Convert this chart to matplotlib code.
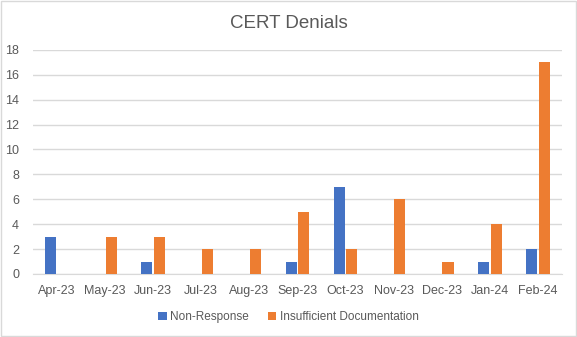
import numpy as np
import matplotlib.pyplot as plt
from matplotlib.patches import Rectangle

months = ['Apr-23', 'May-23', 'Jun-23', 'Jul-23', 'Aug-23', 'Sep-23',
          'Oct-23', 'Nov-23', 'Dec-23', 'Jan-24', 'Feb-24']
non_response = [3, 0, 1, 0, 0, 1, 7, 0, 0, 1, 2]
insufficient_doc = [0, 3, 3, 2, 2, 5, 2, 6, 1, 4, 17]

blue = '#4472C4'
orange = '#ED7D31'
grey = '#595959'

plt.rcParams['font.family'] = ['Liberation Sans', 'DejaVu Sans']

fig = plt.figure(figsize=(5.77, 3.37), dpi=100)
ax = fig.add_axes([0.057, 0.187, 0.917, 0.665])

x = np.arange(len(months))
w = 0.23
gap = 0.03
ax.bar(x - (w + gap) / 2, non_response, width=w, color=blue, label='Non-Response', zorder=3)
ax.bar(x + (w + gap) / 2, insufficient_doc, width=w, color=orange, label='Insufficient Documentation', zorder=3)

ax.set_xlim(-0.5, len(months) - 0.5)
ax.set_ylim(0, 18)
ax.set_yticks(range(0, 19, 2))
ax.set_xticks(x)
ax.set_xticklabels(months)
ax.tick_params(axis='both', length=0, colors=grey, labelsize=9)
ax.tick_params(axis='x', pad=8)
ax.tick_params(axis='y', pad=10)
ax.yaxis.grid(True, color='#D9D9D9', linewidth=1, zorder=0)
for s in ['top', 'right', 'left']:
    ax.spines[s].set_visible(False)
ax.spines['bottom'].set_color('#D9D9D9')

fig.text(0.5, 0.93, 'CERT Denials', ha='center', va='center', fontsize=13.5, color=grey)

fig.legend(loc='center', bbox_to_anchor=(0.5, 0.058), ncol=2, frameon=False,
           fontsize=8.5, labelcolor=grey, handlelength=0.7, handleheight=0.7,
           handletextpad=0.3, columnspacing=1.6)

fig.patches.append(Rectangle((0.002, 0.003), 0.996, 0.994, transform=fig.transFigure,
                             fill=False, edgecolor='#D9D9D9', linewidth=1))

fig.savefig('out.png', dpi=100)
